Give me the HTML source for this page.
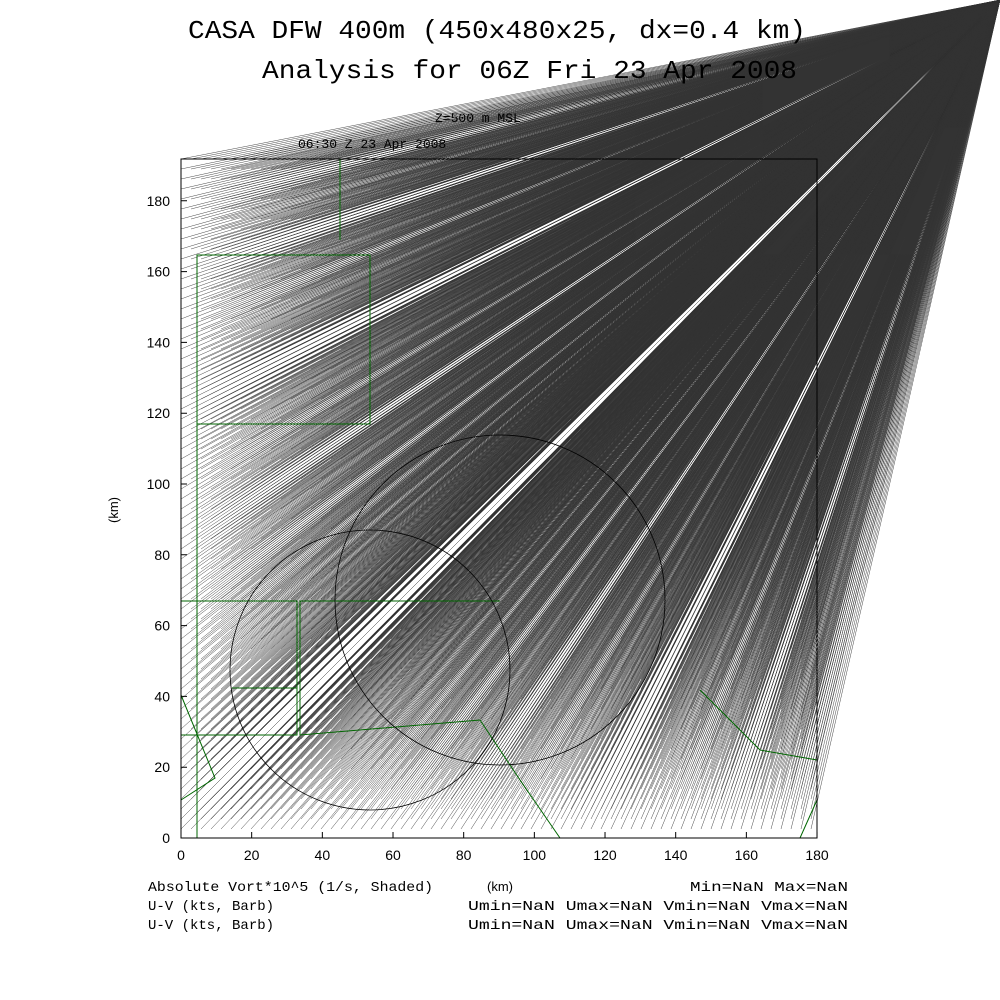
<!DOCTYPE html>
<html><head><meta charset="utf-8"><style>
html,body{margin:0;padding:0;background:#fff;width:1000px;height:1000px;overflow:hidden}
svg{display:block}
.s{font-family:"Liberation Sans",sans-serif}
.m{font-family:"Liberation Mono",monospace}
</style></head><body>
<svg id="s" width="1000" height="1000" xmlns="http://www.w3.org/2000/svg">
<rect width="1000" height="1000" fill="#fff"/>
<g id="fan"></g>
<g fill="none" stroke="#060" stroke-width="1">
<polyline points="197,838 197,255 370,255 370,424 197,424"/>
<polyline points="181,601 297,601 297,735 181,735"/>
<polyline points="297,688 232,688"/>
<polyline points="181,695 215,778 181,800"/>
<polyline points="500,601 300,601 300,735 480,720 520,780 560,838"/>
<polyline points="340,159 340,240"/>
<polyline points="700,690 760,750 817,760"/>
<polyline points="800,838 817,800"/>
</g>
<g fill="none" stroke="#000" stroke-width="0.8">
<circle cx="500" cy="600" r="165"/>
<circle cx="370" cy="670" r="140"/>
</g>
<rect x="181" y="159" width="636" height="679" fill="none" stroke="#000" stroke-width="1"/>
<g stroke="#000" stroke-width="1" id="ticks"></g>
<g font-size="14" id="labels" class="s"></g>
<text class="m" x="188" y="38" font-size="26" textLength="618" lengthAdjust="spacingAndGlyphs">CASA DFW 400m (450x480x25, dx=0.4 km)</text>
<text class="m" x="262" y="78" font-size="26" textLength="535" lengthAdjust="spacingAndGlyphs">Analysis for 06Z Fri 23 Apr 2008</text>
<text class="m" x="435" y="122" font-size="13">Z=500 m MSL</text>
<text class="m" x="298" y="148" font-size="13">06:30 Z 23 Apr 2008</text>
<text class="s" x="118" y="510" font-size="13" transform="rotate(-90 118 510)" text-anchor="middle">(km)</text>
<text class="s" x="500" y="891" font-size="13" text-anchor="middle">(km)</text>
<g font-size="14" class="m">
<text x="148" y="891" textLength="285" lengthAdjust="spacingAndGlyphs">Absolute Vort*10^5 (1/s, Shaded)</text>
<text x="148" y="910">U-V (kts, Barb)</text>
<text x="148" y="929">U-V (kts, Barb)</text>
<text x="690" y="891" textLength="158" lengthAdjust="spacingAndGlyphs">Min=NaN Max=NaN</text>
<text x="468" y="910" textLength="380" lengthAdjust="spacingAndGlyphs">Umin=NaN Umax=NaN Vmin=NaN Vmax=NaN</text>
<text x="468" y="929" textLength="380" lengthAdjust="spacingAndGlyphs">Umin=NaN Umax=NaN Vmin=NaN Vmax=NaN</text>
</g>
</svg>
<script>
(function(){
var NS="http://www.w3.org/2000/svg";
var d="";
for(var x=181;x<=817;x+=10){for(var y=159;y<=838;y+=10){d+="M1000 0L"+x+" "+y;}}
var p=document.createElementNS(NS,"path");
p.setAttribute("d",d);p.setAttribute("stroke","#333");p.setAttribute("stroke-width","0.45");p.setAttribute("fill","none");
document.getElementById("fan").appendChild(p);
var t=document.getElementById("ticks"),l=document.getElementById("labels"),td="";
for(var i=0;i<=9;i++){
 var X=181+i*70.67;td+="M"+X+" 838L"+X+" 832";
 var tx=document.createElementNS(NS,"text");tx.setAttribute("x",X);tx.setAttribute("y",860);tx.setAttribute("text-anchor","middle");tx.textContent=i*20;l.appendChild(tx);
 var Y=838-i*70.8;td+="M181 "+Y+"L187 "+Y;
 var ty=document.createElementNS(NS,"text");ty.setAttribute("x",170);ty.setAttribute("y",Y+5);ty.setAttribute("text-anchor","end");ty.textContent=i*20;l.appendChild(ty);
}
var tp=document.createElementNS(NS,"path");tp.setAttribute("d",td);t.appendChild(tp);
})();
</script>
</body></html>
